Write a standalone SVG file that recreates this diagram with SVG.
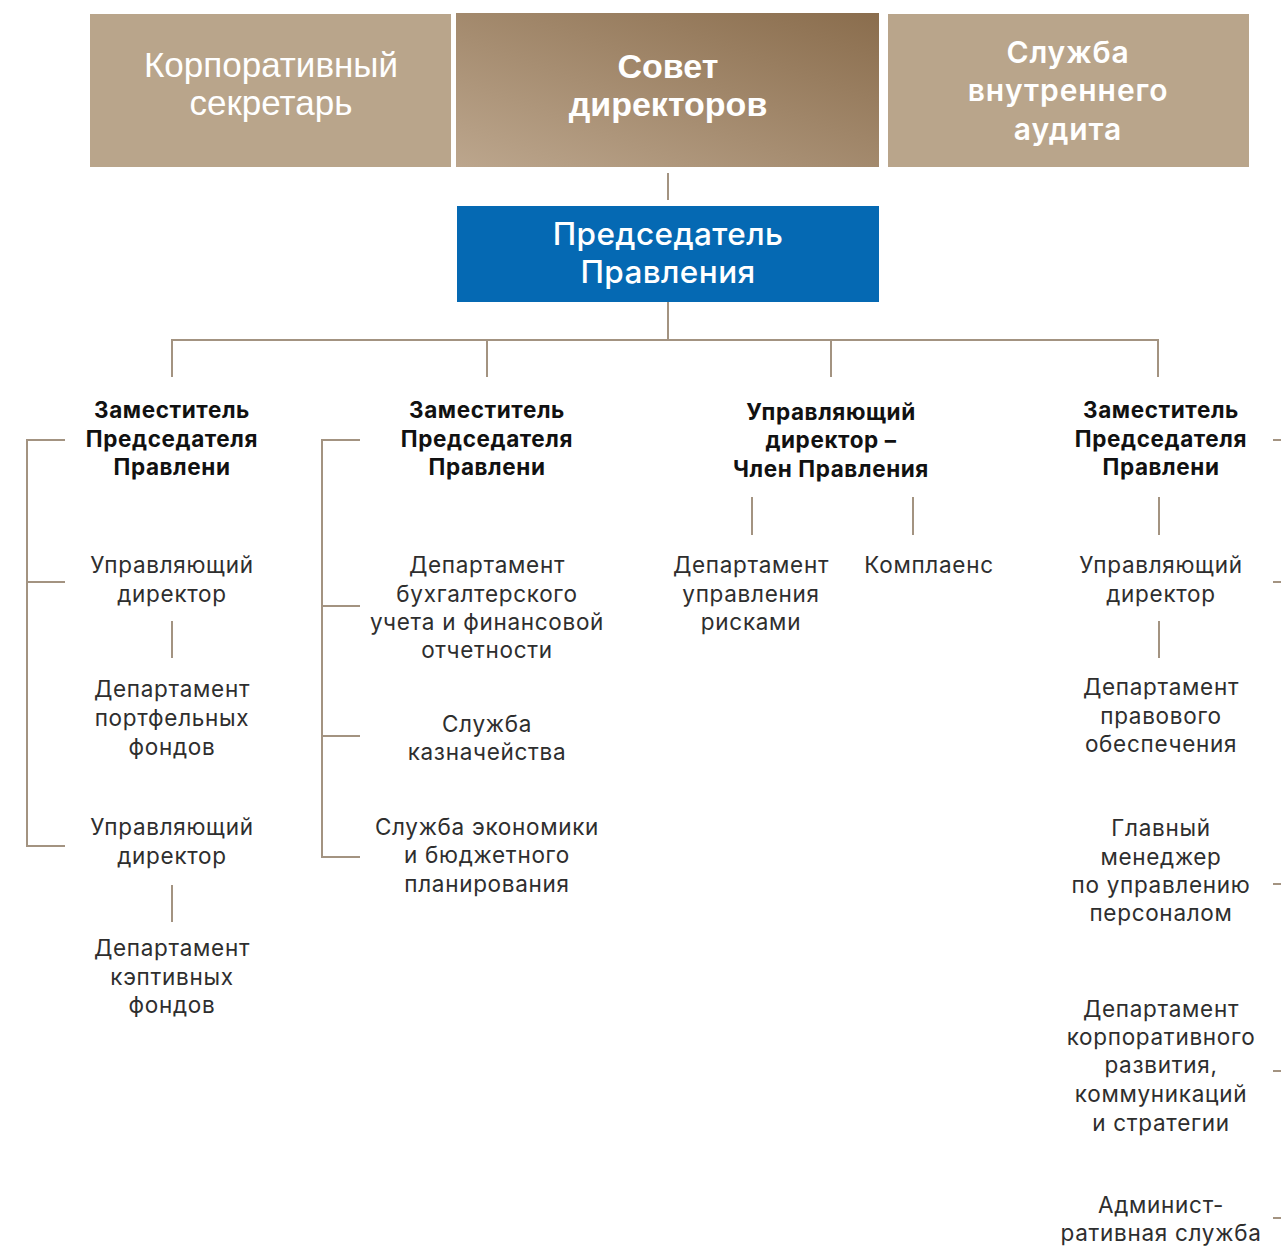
<svg xmlns="http://www.w3.org/2000/svg" width="1281" height="1246" viewBox="0 0 1281 1246">
<defs>
<linearGradient id="g2" x1="0" y1="1" x2="1" y2="0">
<stop offset="0" stop-color="#bca68d"/>
<stop offset="1" stop-color="#8a6d4d"/>
</linearGradient>
<style>
.box{fill:#b9a58b}
.tw{fill:#fff;text-anchor:middle}
.ta{font-family:"Liberation Sans",Arial,sans-serif;font-size:35px}
.tb{font-family:"Liberation Sans",Arial,sans-serif;font-size:34px;font-weight:700}
.ti{font-family:Inter,"Noto Sans",sans-serif;font-size:30px;font-weight:600;letter-spacing:0.9px}
.tc{font-family:Inter,"Noto Sans",sans-serif;font-size:31.5px;font-weight:500;letter-spacing:0.4px}
.h{font-family:Inter,"Noto Sans",sans-serif;font-size:22.5px;font-weight:700;fill:#111;text-anchor:middle;letter-spacing:0.6px}
.t{font-family:Inter,"Noto Sans",sans-serif;font-size:22.5px;font-weight:400;fill:#2e2e2e;text-anchor:middle;letter-spacing:0.7px}
.c line{stroke:#a39381;stroke-width:2}
</style>
</defs>
<rect width="1281" height="1246" fill="#fff"/>
<g id="corp-secretary">
<rect class="box" x="90" y="14" width="361" height="153"/>
<text class="tw ta" x="271" y="77">Корпоративный</text>
<text class="tw ta" x="271" y="115">секретарь</text>
</g>
<g id="board">
<rect x="456" y="13" width="423" height="154" fill="url(#g2)"/>
<text class="tw tb" x="668" y="78">Совет</text>
<text class="tw tb" x="668" y="116">директоров</text>
</g>
<g id="audit">
<rect class="box" x="888" y="14" width="361" height="153"/>
<text class="tw ti" x="1068" y="63">Служба</text>
<text class="tw ti" x="1068" y="101">внутреннего</text>
<text class="tw ti" x="1068" y="140">аудита</text>
</g>
<g id="chairman">
<rect x="457" y="206" width="422" height="96" fill="#0569b3"/>
<text class="tw tc" x="668" y="245">Председатель</text>
<text class="tw tc" x="668" y="283">Правления</text>
</g>
<g id="connectors" class="c">
<line x1="668" y1="173" x2="668" y2="200"/>
<line x1="668" y1="302" x2="668" y2="340"/>
<line x1="171" y1="340" x2="1159" y2="340"/>
<line x1="172" y1="340" x2="172" y2="377"/>
<line x1="487" y1="340" x2="487" y2="377"/>
<line x1="831" y1="340" x2="831" y2="377"/>
<line x1="1158" y1="340" x2="1158" y2="377"/>
<line x1="27" y1="439" x2="27" y2="847"/>
<line x1="26" y1="440" x2="65" y2="440"/>
<line x1="26" y1="582" x2="65" y2="582"/>
<line x1="26" y1="846" x2="65" y2="846"/>
<line x1="172" y1="621" x2="172" y2="658"/>
<line x1="172" y1="885" x2="172" y2="922"/>
<line x1="322" y1="439" x2="322" y2="858"/>
<line x1="321" y1="440" x2="360" y2="440"/>
<line x1="321" y1="606" x2="360" y2="606"/>
<line x1="321" y1="736" x2="360" y2="736"/>
<line x1="321" y1="857" x2="360" y2="857"/>
<line x1="752" y1="497" x2="752" y2="535"/>
<line x1="913" y1="497" x2="913" y2="535"/>
<line x1="1159" y1="497" x2="1159" y2="535"/>
<line x1="1159" y1="621" x2="1159" y2="658"/>
<line x1="1273" y1="440" x2="1281" y2="440"/>
<line x1="1273" y1="582" x2="1281" y2="582"/>
<line x1="1273" y1="884" x2="1281" y2="884"/>
<line x1="1273" y1="1071" x2="1281" y2="1071"/>
<line x1="1273" y1="1218" x2="1281" y2="1218"/>
</g>
<g id="deputy-1">
<text class="h" x="172" y="418">Заместитель</text>
<text class="h" x="172" y="447">Председателя</text>
<text class="h" x="172" y="475">Правлени</text>
</g>
<g id="md-1a"><text class="t" x="172" y="573">Управляющий</text><text class="t" x="172" y="602">директор</text></g>
<g id="dept-portfolio"><text class="t" x="172" y="697">Департамент</text><text class="t" x="172" y="726">портфельных</text><text class="t" x="172" y="755">фондов</text></g>
<g id="md-1b"><text class="t" x="172" y="835">Управляющий</text><text class="t" x="172" y="864">директор</text></g>
<g id="dept-captive"><text class="t" x="172" y="956">Департамент</text><text class="t" x="172" y="985">кэптивных</text><text class="t" x="172" y="1013">фондов</text></g>
<g id="deputy-2">
<text class="h" x="487" y="418">Заместитель</text>
<text class="h" x="487" y="447">Председателя</text>
<text class="h" x="487" y="475">Правлени</text>
</g>
<g id="dept-accounting"><text class="t" x="487" y="573">Департамент</text><text class="t" x="487" y="602">бухгалтерского</text><text class="t" x="487" y="630">учета и финансовой</text><text class="t" x="487" y="658">отчетности</text></g>
<g id="treasury"><text class="t" x="487" y="732">Служба</text><text class="t" x="487" y="760">казначейства</text></g>
<g id="economics"><text class="t" x="487" y="835">Служба экономики</text><text class="t" x="487" y="863">и бюджетного</text><text class="t" x="487" y="892">планирования</text></g>
<g id="md-member">
<text class="h" x="831" y="420">Управляющий</text>
<text class="h" x="831" y="448">директор –</text>
<text class="h" x="831" y="477">Член Правления</text>
</g>
<g id="dept-risk"><text class="t" x="751" y="573">Департамент</text><text class="t" x="751" y="602">управления</text><text class="t" x="751" y="630">рисками</text></g>
<g id="compliance"><text class="t" x="929" y="573">Комплаенс</text></g>
<g id="deputy-4">
<text class="h" x="1161" y="418">Заместитель</text>
<text class="h" x="1161" y="447">Председателя</text>
<text class="h" x="1161" y="475">Правлени</text>
</g>
<g id="md-4"><text class="t" x="1161" y="573">Управляющий</text><text class="t" x="1161" y="602">директор</text></g>
<g id="dept-legal"><text class="t" x="1161" y="695">Департамент</text><text class="t" x="1161" y="724">правового</text><text class="t" x="1161" y="752">обеспечения</text></g>
<g id="hr"><text class="t" x="1161" y="836">Главный</text><text class="t" x="1161" y="865">менеджер</text><text class="t" x="1161" y="893">по управлению</text><text class="t" x="1161" y="921">персоналом</text></g>
<g id="dept-corp-dev"><text class="t" x="1161" y="1017">Департамент</text><text class="t" x="1161" y="1045">корпоративного</text><text class="t" x="1161" y="1073">развития,</text><text class="t" x="1161" y="1102">коммуникаций</text><text class="t" x="1161" y="1131">и стратегии</text></g>
<g id="admin"><text class="t" x="1161" y="1213">Админист-</text><text class="t" x="1161" y="1241">ративная служба</text></g>
</svg>
